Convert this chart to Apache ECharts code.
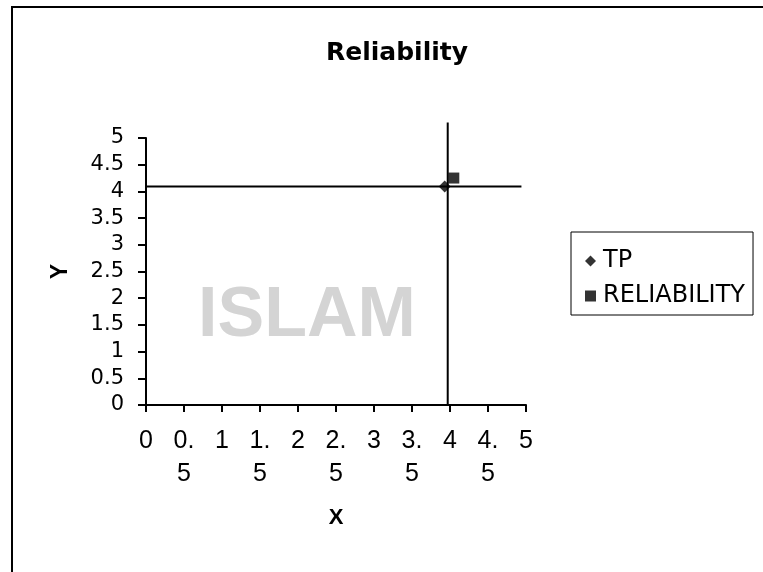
<!DOCTYPE html>
<html>
<head>
<meta charset="utf-8">
<script src="https://cdn.jsdelivr.net/npm/echarts@6/dist/echarts.min.js"></script>
<style>
  html, body { margin: 0; padding: 0; background: #fff; }
  #main { width: 763px; height: 572px; }
</style>
</head>
<body>
<div id="main"></div>
<script>
// tick labels (Excel wraps the x labels onto two lines)
var xTickLabels = ['0', '0.\n5', '1', '1.\n5', '2', '2.\n5', '3', '3.\n5', '4', '4.\n5', '5'];
var yTickLabels = ['0', '0.5', '1', '1.5', '2', '2.5', '3', '3.5', '4', '4.5', '5'];

// points
var tpPoint = [3.93, 4.09];
var reliabilityPoint = [4.05, 4.25];

// crosshair lines
var vLineX = [3.97, 3.97];
var vLineY = [0, 5.29];
var hLineX = [0, 4.94];
var hLineY = [4.09, 4.09];

var chart = echarts.init(document.getElementById('main'));

var option = {
    backgroundColor: '#fff',
    animation: false,
    title: {
        text: 'Reliability',
        left: 392,
        top: 36,
        textAlign: 'center',
        textStyle: { fontFamily: 'DejaVu Sans', fontWeight: 'bold', fontSize: 25, color: '#000' }
    },
    legend: {
        orient: 'vertical',
        left: 571,
        top: 232,
        padding: [17, 8, 7, 14],
        itemGap: 11,
        itemWidth: 11,
        itemHeight: 11,
        borderColor: '#000',
        borderWidth: 1,
        borderRadius: 0,
        data: [
            { name: 'TP', icon: 'diamond' },
            { name: 'RELIABILITY', icon: 'rect' }
        ],
        textStyle: { fontFamily: 'DejaVu Sans', fontSize: 24, lineHeight: 24, color: '#000', padding: [0, 0, 0, 2] }
    },
    grid: { left: 146, top: 138, width: 380, height: 267 },
    xAxis: {
        type: 'value',
        min: 0, max: 5, interval: 0.5,
        name: 'X',
        nameLocation: 'middle',
        nameGap: 102,
        nameTextStyle: { fontFamily: 'Liberation Sans', fontWeight: 'bold', fontSize: 22, color: '#000' },
        axisLine: { show: true, lineStyle: { color: '#000', width: 2 } },
        axisTick: { show: true, inside: false, length: 7, lineStyle: { color: '#000', width: 2 } },
        axisLabel: {
            margin: 20,
            fontFamily: 'Liberation Sans',
            fontSize: 25,
            lineHeight: 33,
            color: '#000',
            verticalAlign: 'top',
            formatter: function (v) { return xTickLabels[Math.round(v / 0.5)]; }
        },
        splitLine: { show: false }
    },
    yAxis: {
        type: 'value',
        min: 0, max: 5, interval: 0.5,
        name: 'Y',
        nameLocation: 'middle',
        nameRotate: 90,
        nameGap: 74,
        nameTextStyle: { fontFamily: 'Liberation Sans', fontWeight: 'bold', fontSize: 23, color: '#000' },
        axisLine: { show: true, lineStyle: { color: '#000', width: 2 } },
        axisTick: { show: true, inside: false, length: 8, lineStyle: { color: '#000', width: 2 } },
        axisLabel: {
            margin: 22,
            fontFamily: 'DejaVu Sans',
            fontSize: 21,
            color: '#000',
            formatter: function (v) { return yTickLabels[Math.round(v / 0.5)]; }
        },
        splitLine: { show: false }
    },
    graphic: [
        {
            type: 'rect', z: -10, silent: true,
            shape: { x: 12, y: 7, width: 800, height: 600 },
            style: { fill: 'none', stroke: '#000', lineWidth: 2 }
        },
        {
            type: 'text', z: -10, silent: true, left: 198, top: 282,
            style: { text: 'ISLAM', fill: '#d4d4d4', font: 'bold 70px "Liberation Sans"' }
        }
    ],
    series: [
        {
            name: 'vline', type: 'line', clip: false, silent: true,
            symbol: 'none',
            lineStyle: { color: '#000', width: 2 },
            data: vLineX.map(function (x, i) { return [x, vLineY[i]]; })
        },
        {
            name: 'hline', type: 'line', clip: false, silent: true,
            symbol: 'none',
            lineStyle: { color: '#000', width: 2 },
            data: hLineX.map(function (x, i) { return [x, hLineY[i]]; })
        },
        {
            name: 'TP', type: 'scatter', symbol: 'diamond', symbolSize: 12,
            itemStyle: { color: '#000' },
            data: [tpPoint]
        },
        {
            name: 'RELIABILITY', type: 'scatter', symbol: 'rect', symbolSize: 11,
            itemStyle: { color: '#000' },
            data: [reliabilityPoint]
        }
    ]
};

chart.setOption(option);
</script>
</body>
</html>
